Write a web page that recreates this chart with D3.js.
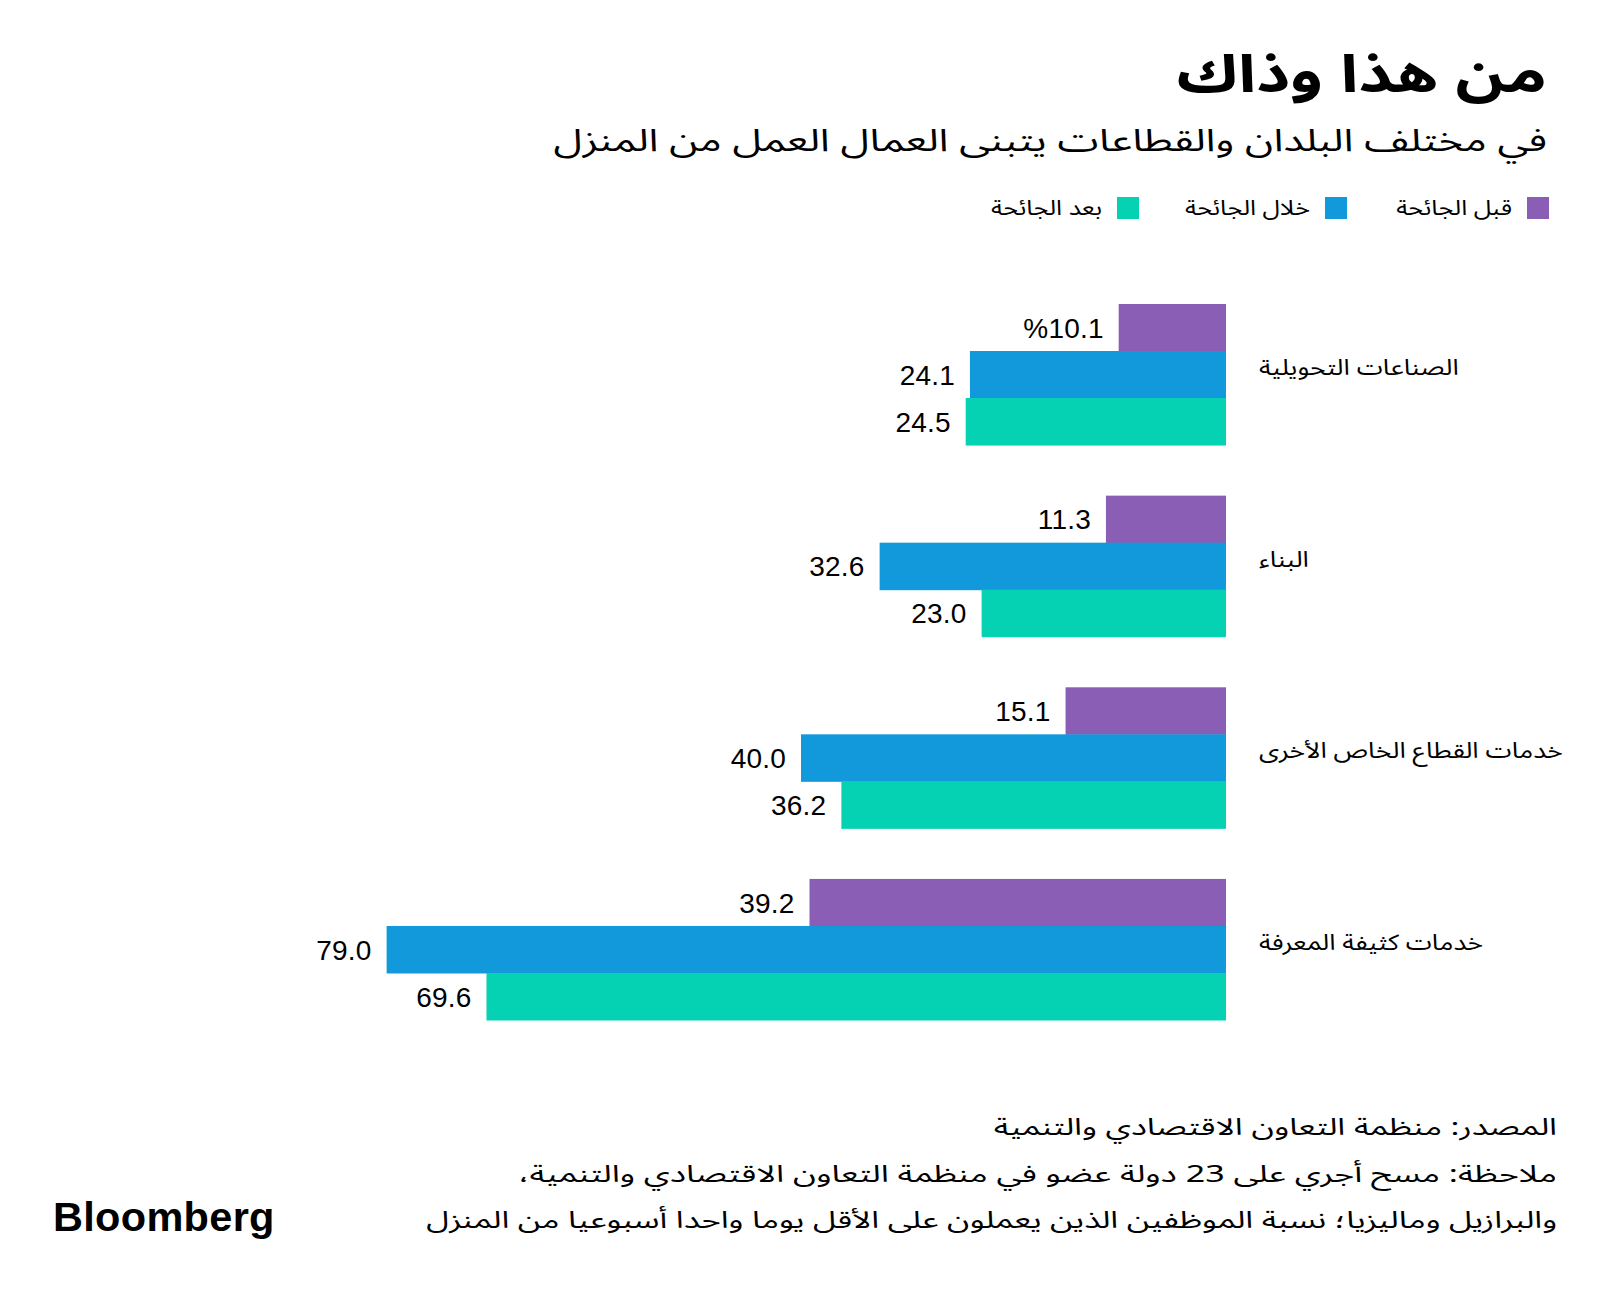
<!DOCTYPE html>
<html><head><meta charset="utf-8">
<script src="https://cdn.jsdelivr.net/npm/d3@7"></script>
<style>
html,body{margin:0;padding:0;background:#fff;}
svg{display:block;}
.ar{font-family:"Noto Sans Arabic","DejaVu Sans",sans-serif;}
.num{font-family:"Liberation Sans",Arial,sans-serif;}
</style></head>
<body>
<script>
const categories = ["الصناعات التحويلية","البناء","خدمات القطاع الخاص الأخرى","خدمات كثيفة المعرفة"];
const seriesNames = ["قبل الجائحة","خلال الجائحة","بعد الجائحة"];
const before = [10.1, 11.3, 15.1, 39.2];
const during = [24.1, 32.6, 40.0, 79.0];
const after  = [24.5, 23.0, 36.2, 69.6];
const colors = ["#8A5EB4","#1299DB","#05D1B3"];
const title = "من هذا وذاك";
const subtitle = "في مختلف البلدان والقطاعات يتبنى العمال العمل من المنزل";
const footer = ["المصدر: منظمة التعاون الاقتصادي والتنمية",
  "ملاحظة: مسح أجري على 23 دولة عضو في منظمة التعاون الاقتصادي والتنمية،",
  "والبرازيل وماليزيا؛ نسبة الموظفين الذين يعملون على الأقل يوما واحدا أسبوعيا من المنزل"];

const W=1600,H=1295;
const svg=d3.select("body").append("svg").attr("width",W).attr("height",H);

// widen the Arabic fallback font to match the reference typeface's proportions
function stretch(sel,f){
  sel.each(function(){const w=this.getComputedTextLength();
    d3.select(this).attr("textLength",w*f).attr("lengthAdjust","spacingAndGlyphs");});
}

const seriesVals=[before,during,after];
const rows=categories.map((c,i)=>({cat:c,vals:seriesVals.map((s,j)=>({k:j,v:s[i]}))}));

const x=d3.scaleLinear().domain([0,80]).range([1226,376]);
const y=d3.scaleBand().domain(categories).range([304,1020]).paddingInner(0.264);
const yi=d3.scaleBand().domain([0,1,2]).range([0,y.bandwidth()]);
const fmt=d3.format(".1f");

// title
svg.append("text").attr("class","ar").attr("x",1547).attr("y",92)
  .attr("direction","rtl").attr("text-anchor","start")
  .attr("font-size",52).attr("font-weight",700).attr("fill","#000").text(title)
  .call(stretch,1.27);
svg.append("text").attr("class","ar").attr("x",1547).attr("y",151)
  .attr("direction","rtl").attr("text-anchor","start")
  .attr("font-size",31).attr("fill","#000").text(subtitle)
  .call(stretch,1.347);

// legend
const legX=[1549,1347,1139];
seriesNames.forEach((n,i)=>{
  svg.append("rect").attr("x",legX[i]-22).attr("y",197).attr("width",22).attr("height",22).attr("fill",colors[i]);
  svg.append("text").attr("class","ar").attr("x",legX[i]-37).attr("y",215)
    .attr("direction","rtl").attr("text-anchor","start").attr("font-size",21).attr("fill","#000").text(n)
    .call(stretch,1.2);
});

// bars
const g=svg.append("g").selectAll("g").data(rows).join("g")
  .attr("transform",d=>`translate(0,${y(d.cat)})`);
g.selectAll("rect").data(d=>d.vals).join("rect")
  .attr("x",d=>x(d.v)).attr("y",d=>yi(d.k))
  .attr("width",d=>x(0)-x(d.v)).attr("height",yi.bandwidth()+0.5)
  .attr("fill",d=>colors[d.k]);
g.selectAll("text.num").data(d=>d.vals).join("text").attr("class","num")
  .attr("x",d=>x(d.v)-15).attr("y",d=>yi(d.k)+yi.bandwidth()/2)
  .attr("dy","0.36em").attr("text-anchor","end")
  .attr("font-size",28).attr("letter-spacing",0.2).attr("fill","#000")
  .text((d,i,n)=>{const r=d3.select(n[i].parentNode).datum();return (r.cat===categories[0]&&d.k===0?"%":"")+fmt(d.v);});
g.append("text").attr("class","ar")
  .attr("x",1259).attr("y",y.bandwidth()/2).attr("dy","0.02em")
  .attr("direction","rtl").attr("text-anchor","end")
  .attr("font-size",22).attr("fill","#000").text(d=>d.cat)
  .call(stretch,1.2);

// footer
const fy=[1135,1182,1228];
const fStretch=[1.418,1.449,1.407];
footer.forEach((t,i)=>{
  svg.append("text").attr("class","ar").attr("x",1557).attr("y",fy[i])
    .attr("direction","rtl").attr("text-anchor","start")
    .attr("font-size",23.5).attr("fill","#000").text(t)
    .call(stretch,fStretch[i]);
});
svg.append("text").attr("x",53).attr("y",1231)
  .attr("font-family","Liberation Sans, Arial, sans-serif").attr("font-weight",700)
  .attr("font-size",41.5).attr("letter-spacing",0.3).attr("fill","#000").text("Bloomberg");
</script>
</body></html>
